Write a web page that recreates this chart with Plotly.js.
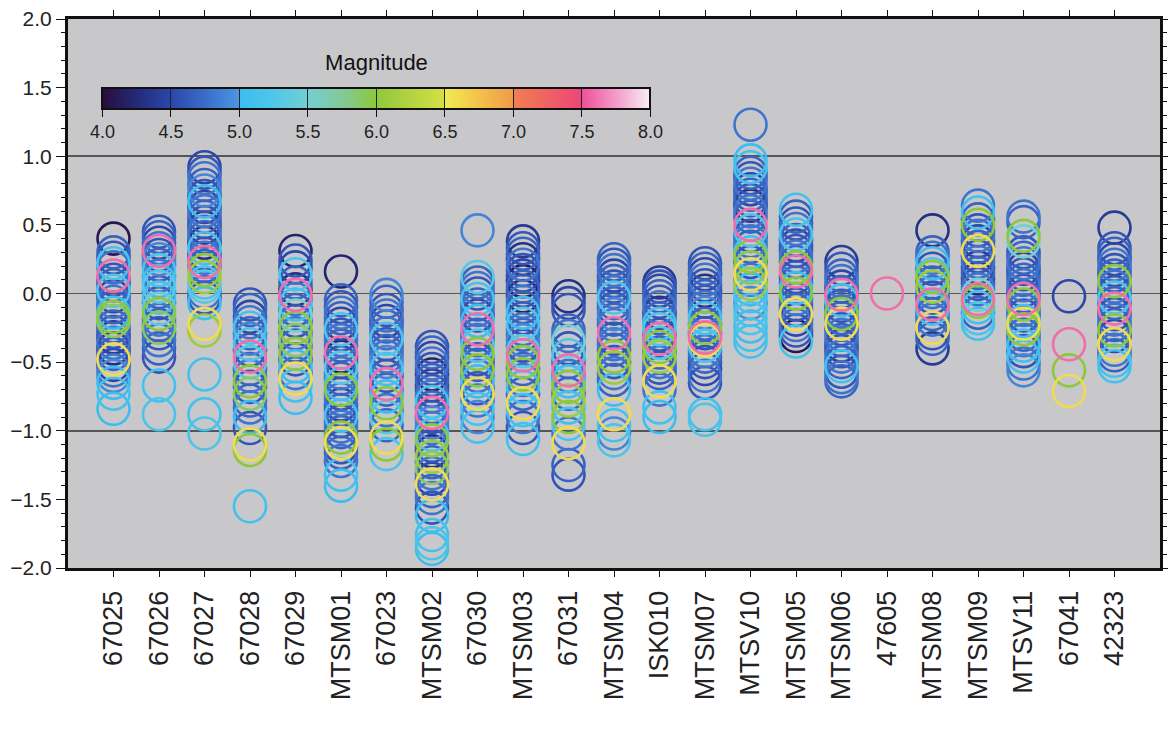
<!DOCTYPE html>
<html>
<head>
<meta charset="utf-8">
<script src="https://cdn.plot.ly/plotly-3.0.1.min.js"></script>
<style>
  html, body { margin: 0; padding: 0; background: #ffffff; }
  #chart { width: 1168px; height: 731px; }
</style>
</head>
<body>
<div id="chart"></div>
<script>
// Station codes along the x axis
const stations = ['67025', '67026', '67027', '67028', '67029', 'MTSM01', '67023', 'MTSM02',
  '67030', 'MTSM03', '67031', 'MTSM04', 'ISK010', 'MTSM07', 'MTSV10', 'MTSM05', 'MTSM06',
  '47605', 'MTSM08', 'MTSM09', 'MTSV11', '67041', '42323'];

// Residuals per station, with the magnitude of each event
const res_67025 = [0.40, 0.30, 0.26, 0.22, 0.19, 0.13, 0.10, 0.06, 0.02, -0.02, -0.06, -0.10, -0.14, -0.17, -0.20, -0.24, -0.28, -0.32, -0.36, -0.40, -0.44, -0.48, -0.52, -0.56, -0.60, -0.65, -0.73, -0.84];
const mag_67025 = [4.1, 4.7, 4.6, 5.1, 4.8, 7.6, 4.6, 4.7, 5.2, 4.5, 4.8, 4.7, 5.0, 6.0, 5.9, 4.7, 4.6, 4.4, 4.8, 4.3, 4.7, 6.6, 4.5, 4.8, 4.9, 5.0, 5.1, 5.0];

const res_67026 = [0.45, 0.41, 0.37, 0.33, 0.31, 0.28, 0.25, 0.21, 0.17, 0.13, 0.09, 0.05, 0.01, -0.03, -0.07, -0.11, -0.15, -0.19, -0.23, -0.25, -0.29, -0.34, -0.40, -0.46, -0.67, -0.88];
const mag_67026 = [4.6, 4.7, 4.5, 4.8, 7.6, 4.6, 4.9, 4.7, 5.2, 4.8, 5.0, 5.3, 4.7, 5.1, 4.6, 5.4, 6.0, 4.8, 4.7, 5.9, 4.6, 4.8, 4.7, 4.6, 5.1, 5.2];

const res_67027 = [0.92, 0.88, 0.84, 0.79, 0.75, 0.71, 0.67, 0.63, 0.60, 0.56, 0.52, 0.48, 0.45, 0.41, 0.37, 0.33, 0.29, 0.26, 0.23, 0.20, 0.17, 0.12, 0.08, 0.05, 0.01, -0.03, -0.07, -0.22, -0.27, -0.59, -0.88, -1.02];
const mag_67027 = [4.5, 4.6, 4.8, 4.7, 4.9, 4.6, 5.0, 4.5, 4.8, 4.7, 4.6, 4.4, 4.8, 4.7, 4.3, 5.1, 4.6, 4.8, 7.6, 4.7, 6.0, 6.1, 5.2, 5.3, 4.8, 4.6, 5.0, 6.6, 6.1, 5.1, 5.1, 5.2];

const res_67028 = [-0.08, -0.12, -0.17, -0.21, -0.25, -0.29, -0.33, -0.37, -0.41, -0.46, -0.50, -0.55, -0.60, -0.64, -0.68, -0.73, -0.78, -0.83, -0.90, -0.98, -1.10, -1.14, -1.55];
const mag_67028 = [4.6, 4.7, 4.5, 4.8, 5.1, 4.7, 4.9, 5.2, 4.6, 7.6, 5.3, 4.7, 4.8, 6.0, 4.6, 5.9, 4.7, 4.8, 5.0, 4.6, 6.6, 6.0, 5.1];

const res_67029 = [0.31, 0.24, 0.19, 0.14, 0.08, 0.03, -0.01, -0.04, -0.08, -0.12, -0.16, -0.20, -0.25, -0.29, -0.34, -0.38, -0.44, -0.48, -0.53, -0.58, -0.62, -0.67, -0.76];
const mag_67029 = [4.2, 4.6, 4.5, 5.2, 4.7, 4.3, 7.6, 4.8, 5.1, 4.7, 5.5, 4.6, 6.0, 4.8, 5.9, 4.7, 6.0, 4.6, 5.0, 4.8, 6.6, 5.1, 5.0];

const res_MTSM01 = [0.16, -0.05, -0.10, -0.14, -0.18, -0.22, -0.26, -0.30, -0.34, -0.38, -0.43, -0.46, -0.50, -0.54, -0.58, -0.62, -0.66, -0.70, -0.73, -0.77, -0.81, -0.85, -0.89, -0.93, -0.97, -1.01, -1.05, -1.09, -1.12, -1.16, -1.22, -1.32, -1.40];
const mag_MTSM01 = [4.2, 4.7, 4.6, 4.8, 4.7, 4.5, 5.2, 4.6, 4.8, 4.7, 7.6, 4.2, 4.6, 5.3, 4.8, 4.7, 5.0, 6.0, 4.6, 4.8, 4.5, 4.7, 5.1, 4.6, 4.8, 4.7, 6.0, 6.6, 4.6, 4.7, 4.8, 5.1, 5.0];

const res_67023 = [-0.01, -0.06, -0.12, -0.16, -0.20, -0.24, -0.29, -0.33, -0.37, -0.42, -0.46, -0.50, -0.55, -0.60, -0.66, -0.70, -0.75, -0.80, -0.85, -0.90, -0.96, -1.05, -1.10, -1.17];
const mag_67023 = [4.9, 4.7, 4.6, 4.8, 4.5, 4.7, 4.8, 5.2, 4.6, 4.7, 4.8, 4.9, 5.1, 4.6, 7.6, 4.7, 5.0, 6.0, 4.8, 5.3, 4.7, 6.6, 6.0, 5.2];

const res_MTSM02 = [-0.39, -0.43, -0.47, -0.51, -0.55, -0.59, -0.63, -0.67, -0.71, -0.75, -0.79, -0.83, -0.87, -0.90, -0.94, -0.98, -1.03, -1.07, -1.11, -1.15, -1.19, -1.23, -1.27, -1.31, -1.35, -1.39, -1.44, -1.49, -1.56, -1.62, -1.76, -1.82, -1.86];
const mag_MTSM02 = [4.6, 4.7, 4.5, 4.8, 4.6, 4.2, 4.7, 4.4, 4.6, 4.8, 5.1, 4.7, 7.6, 4.6, 4.9, 4.8, 5.2, 6.0, 4.6, 4.3, 6.1, 4.7, 5.9, 4.8, 4.5, 6.6, 4.7, 4.8, 4.6, 5.0, 5.1, 5.2, 5.0];

const res_67030 = [0.46, 0.12, 0.08, 0.04, 0.00, -0.04, -0.08, -0.12, -0.16, -0.20, -0.26, -0.30, -0.34, -0.38, -0.44, -0.48, -0.52, -0.56, -0.60, -0.64, -0.69, -0.73, -0.78, -0.84, -0.90, -0.97];
const mag_67030 = [4.9, 5.3, 4.7, 4.8, 4.6, 5.1, 4.7, 4.8, 4.5, 5.0, 7.6, 4.7, 4.8, 5.2, 6.0, 4.6, 4.7, 6.0, 4.8, 5.0, 4.6, 6.6, 4.8, 5.1, 4.9, 5.1];

const res_MTSM03 = [0.38, 0.33, 0.29, 0.25, 0.21, 0.17, 0.13, 0.09, 0.05, 0.02, -0.02, -0.06, -0.10, -0.14, -0.18, -0.22, -0.26, -0.30, -0.34, -0.38, -0.42, -0.45, -0.50, -0.55, -0.59, -0.63, -0.68, -0.73, -0.80, -0.85, -0.90, -0.98, -1.06];
const mag_MTSM03 = [4.4, 4.6, 4.7, 4.3, 4.8, 4.6, 4.5, 4.1, 4.7, 4.6, 4.2, 4.8, 4.7, 5.0, 4.6, 5.2, 4.8, 4.7, 4.9, 4.6, 5.3, 7.6, 6.0, 4.7, 6.0, 4.8, 5.1, 4.7, 6.6, 5.1, 4.8, 4.6, 5.1];

const res_67031 = [-0.02, -0.07, -0.12, -0.27, -0.31, -0.35, -0.40, -0.45, -0.50, -0.56, -0.60, -0.64, -0.68, -0.73, -0.78, -0.83, -0.90, -0.95, -1.02, -1.09, -1.25, -1.32];
const mag_67031 = [4.3, 4.5, 4.6, 4.7, 4.8, 5.5, 4.6, 5.2, 4.7, 7.6, 4.8, 5.0, 6.0, 4.7, 6.1, 5.1, 6.0, 5.2, 4.8, 6.6, 4.7, 4.6];

const res_MTSM04 = [0.25, 0.21, 0.17, 0.13, 0.09, 0.05, 0.01, -0.03, -0.07, -0.11, -0.15, -0.19, -0.23, -0.29, -0.33, -0.37, -0.41, -0.46, -0.50, -0.54, -0.58, -0.63, -0.70, -0.88, -0.96, -1.02, -1.07];
const mag_MTSM04 = [4.7, 4.6, 4.8, 4.5, 4.7, 4.6, 4.8, 5.2, 4.7, 4.6, 4.9, 4.7, 4.8, 7.6, 4.6, 4.8, 4.7, 6.0, 4.6, 6.1, 4.8, 4.7, 5.0, 6.6, 5.1, 4.9, 5.2];

const res_ISK010 = [0.08, 0.05, 0.02, -0.02, -0.06, -0.10, -0.14, -0.18, -0.22, -0.26, -0.30, -0.33, -0.36, -0.39, -0.43, -0.46, -0.50, -0.54, -0.58, -0.64, -0.70, -0.83, -0.90];
const mag_ISK010 = [4.4, 4.6, 4.5, 4.7, 4.6, 4.8, 4.3, 4.7, 5.1, 5.2, 4.6, 7.6, 5.3, 6.0, 4.7, 6.1, 4.8, 4.6, 4.7, 6.6, 4.8, 5.1, 5.0];

const res_MTSM07 = [0.22, 0.18, 0.14, 0.10, 0.06, 0.02, -0.02, -0.06, -0.10, -0.14, -0.18, -0.22, -0.25, -0.29, -0.32, -0.34, -0.38, -0.42, -0.46, -0.50, -0.55, -0.60, -0.65, -0.88, -0.92];
const mag_MTSM07 = [4.6, 4.7, 4.5, 4.8, 4.6, 4.3, 4.7, 4.6, 4.8, 4.9, 5.1, 4.7, 6.0, 4.6, 7.6, 6.6, 5.2, 4.8, 4.7, 4.6, 4.5, 4.8, 4.6, 5.1, 5.2];

const res_MTSV10 = [1.23, 0.97, 0.92, 0.88, 0.84, 0.80, 0.76, 0.72, 0.68, 0.64, 0.60, 0.56, 0.50, 0.46, 0.42, 0.38, 0.34, 0.30, 0.27, 0.23, 0.19, 0.14, 0.10, 0.07, 0.03, -0.02, -0.07, -0.12, -0.18, -0.24, -0.30, -0.35];
const mag_MTSV10 = [4.8, 5.0, 5.1, 4.7, 4.6, 4.8, 4.5, 4.7, 4.6, 4.3, 4.8, 4.7, 7.6, 5.2, 4.6, 4.8, 4.7, 5.1, 6.0, 4.6, 5.9, 6.6, 4.8, 6.1, 5.0, 5.1, 4.9, 5.1, 5.2, 5.0, 5.1, 5.1];

const res_MTSM05 = [0.61, 0.56, 0.51, 0.47, 0.43, 0.39, 0.35, 0.31, 0.27, 0.23, 0.19, 0.16, 0.12, 0.08, 0.04, 0.00, -0.04, -0.08, -0.12, -0.15, -0.19, -0.23, -0.27, -0.31, -0.35];
const mag_MTSM05 = [5.1, 4.7, 4.6, 4.8, 5.2, 4.7, 4.5, 4.6, 4.8, 4.7, 6.0, 7.6, 4.6, 4.7, 5.0, 6.0, 4.8, 4.6, 4.7, 6.6, 4.5, 4.8, 4.6, 4.1, 5.1];

const res_MTSM06 = [0.23, 0.18, 0.13, 0.09, 0.05, 0.01, -0.01, -0.05, -0.09, -0.13, -0.15, -0.18, -0.22, -0.26, -0.30, -0.34, -0.38, -0.42, -0.46, -0.50, -0.53, -0.57, -0.61, -0.64];
const mag_MTSM06 = [4.4, 4.6, 4.7, 4.8, 4.5, 4.7, 7.6, 5.1, 4.6, 4.8, 6.0, 4.7, 6.6, 4.6, 4.8, 4.7, 4.4, 4.6, 4.8, 4.7, 5.1, 4.6, 4.8, 4.7];

const res_47605 = [0.00];
const mag_47605 = [7.6];

const res_MTSM08 = [0.46, 0.30, 0.26, 0.22, 0.18, 0.14, 0.12, 0.08, 0.05, 0.01, -0.03, -0.08, -0.11, -0.15, -0.19, -0.25, -0.29, -0.33, -0.40];
const mag_MTSM08 = [4.3, 4.7, 4.8, 5.0, 4.6, 5.2, 6.0, 4.7, 6.1, 4.8, 4.6, 7.6, 5.1, 4.7, 4.8, 6.6, 4.6, 4.7, 4.4];

const res_MTSM09 = [0.64, 0.59, 0.54, 0.50, 0.46, 0.42, 0.38, 0.34, 0.31, 0.27, 0.23, 0.19, 0.15, 0.11, 0.07, 0.03, -0.01, -0.04, -0.06, -0.10, -0.14, -0.18, -0.22];
const mag_MTSM09 = [4.8, 5.1, 4.7, 6.0, 4.6, 4.8, 4.5, 4.7, 6.6, 4.6, 4.8, 4.4, 4.7, 4.3, 4.6, 4.8, 5.5, 7.6, 6.0, 5.1, 4.7, 5.2, 5.1];

const res_MTSV11 = [0.56, 0.52, 0.42, 0.38, 0.30, 0.26, 0.22, 0.18, 0.14, 0.10, 0.06, 0.02, -0.02, -0.04, -0.08, -0.12, -0.16, -0.20, -0.22, -0.26, -0.30, -0.34, -0.38, -0.42, -0.46, -0.51, -0.56];
const mag_MTSV11 = [4.8, 4.7, 6.0, 5.5, 4.6, 4.7, 4.8, 4.5, 4.6, 4.7, 4.8, 4.6, 4.7, 7.6, 6.0, 4.8, 4.6, 5.1, 6.6, 6.0, 4.7, 4.8, 5.1, 4.6, 5.1, 4.8, 4.9];

const res_67041 = [-0.02, -0.37, -0.56, -0.71];
const mag_67041 = [4.5, 7.6, 6.0, 6.6];

const res_42323 = [0.48, 0.33, 0.29, 0.25, 0.21, 0.17, 0.13, 0.09, 0.05, 0.01, -0.03, -0.07, -0.11, -0.15, -0.19, -0.23, -0.27, -0.31, -0.37, -0.41, -0.45, -0.49, -0.53];
const mag_42323 = [4.4, 4.6, 4.7, 4.5, 4.8, 4.6, 4.7, 6.0, 4.8, 4.6, 5.2, 4.7, 7.6, 4.6, 4.8, 4.7, 6.0, 4.5, 6.6, 4.8, 4.7, 5.1, 5.1];

const residuals = [res_67025, res_67026, res_67027, res_67028, res_67029, res_MTSM01, res_67023, res_MTSM02,
  res_67030, res_MTSM03, res_67031, res_MTSM04, res_ISK010, res_MTSM07, res_MTSV10, res_MTSM05, res_MTSM06,
  res_47605, res_MTSM08, res_MTSM09, res_MTSV11, res_67041, res_42323];
const magnitudes = [mag_67025, mag_67026, mag_67027, mag_67028, mag_67029, mag_MTSM01, mag_67023, mag_MTSM02,
  mag_67030, mag_MTSM03, mag_67031, mag_MTSM04, mag_ISK010, mag_MTSM07, mag_MTSV10, mag_MTSM05, mag_MTSM06,
  mag_47605, mag_MTSM08, mag_MTSM09, mag_MTSV11, mag_67041, mag_42323];

// Magnitude palette, 4.0 to 8.0, with breaks at 5.0, 6.5, 7.0 and 7.5
const magnitudeScale = [
  [0.000, '#2a0c38'], [0.062, '#232a78'], [0.125, '#2c46aa'], [0.188, '#3a6cca'], [0.249, '#4c95e0'],
  [0.250, '#3bbdf0'], [0.312, '#4fc6ea'], [0.375, '#72cfd2'], [0.438, '#82c998'], [0.500, '#8cc83c'],
  [0.562, '#b3d340'], [0.624, '#d6df45'], [0.625, '#efec52'], [0.688, '#f3c24a'], [0.749, '#f09b4a'],
  [0.750, '#f07f52'], [0.812, '#ef6262'], [0.874, '#ef457a'], [0.875, '#ef4f99'], [0.938, '#f49bc9'],
  [1.000, '#f8eef4']
];

// Flatten the stations into one set of points, larger events drawn last
const points = [];
stations.forEach((s, i) => {
  residuals[i].forEach((r, j) => points.push({ s: s, r: r, m: magnitudes[i][j] }));
});
points.sort((a, b) => a.m - b.m);

const FONT = 'Liberation Sans, Arial, Helvetica, sans-serif';

// Shared colour bar geometry; the second bar only adds the interval lines across it
const barBase = {
  orientation: 'h',
  x: 0.2825, xanchor: 'center',
  y: 0.9195, yanchor: 'top',
  len: 0.502, lenmode: 'fraction',
  thickness: 21,
  xpad: 0, ypad: 0,
  outlinewidth: 2, outlinecolor: '#111111',
  bgcolor: 'rgba(0,0,0,0)',
  borderwidth: 0,
  tick0: 4, dtick: 0.5, tickformat: '.1f',
  tickwidth: 1
};

const trace = {
  type: 'scatter',
  mode: 'markers',
  x: points.map(p => p.s),
  y: points.map(p => p.r),
  hoverinfo: 'skip',
  showlegend: false,
  marker: {
    symbol: 'circle-open',
    size: 32,
    color: points.map(p => p.m),
    colorscale: magnitudeScale,
    cmin: 4,
    cmax: 8,
    line: { width: 2.6 },
    showscale: true,
    colorbar: Object.assign({}, barBase, {
      ticks: 'outside', ticklen: 7, tickcolor: '#111111',
      tickfont: { family: FONT, size: 18, color: '#222222' },
      title: { text: 'Magnitude', side: 'top', font: { family: FONT, size: 22, color: '#111111' } }
    })
  }
};

// Colour bar overlay carrying the interval lines inside the bar
const barLines = {
  type: 'scatter', mode: 'markers',
  x: [stations[0]], y: [null],
  hoverinfo: 'skip', showlegend: false,
  marker: {
    color: [4], colorscale: magnitudeScale, cmin: 4, cmax: 8, showscale: true,
    colorbar: Object.assign({}, barBase, {
      ticks: 'inside', ticklen: 21, tickcolor: '#222222',
      showticklabels: false,
      title: { text: 'Magnitude', side: 'top', font: { family: FONT, size: 22, color: 'rgba(0,0,0,0)' } }
    })
  }
};

// Empty helper trace so the overlaid axis carrying the 1.0 grid is built
const gridTrace = {
  type: 'scatter', mode: 'none', x: [], y: [], yaxis: 'y2', xaxis: 'x',
  showlegend: false, hoverinfo: 'skip'
};

const layout = {
  width: 1168,
  height: 731,
  margin: { l: 68, r: 8, t: 19, b: 163, pad: 0 },
  paper_bgcolor: '#ffffff',
  plot_bgcolor: '#c8c8ca',
  font: { family: FONT, color: '#222222' },
  xaxis: {
    type: 'category',
    categoryorder: 'array',
    categoryarray: stations,
    range: [-1, 23],
    showgrid: false,
    zeroline: false,
    showline: true, linewidth: 3, linecolor: '#111111',
    mirror: 'ticks',
    ticks: 'outside', ticklen: 6, tickwidth: 1, tickcolor: '#111111',
    tickangle: -90,
    ticklabelstandoff: 3,
    tickfont: { family: FONT, size: 27, color: '#222222' },
    fixedrange: true
  },
  yaxis: {
    range: [-2, 2],
    tick0: 0, dtick: 0.5, tickformat: '.1f',
    showgrid: false,
    zeroline: false,
    showline: true, linewidth: 3, linecolor: '#111111',
    mirror: 'ticks',
    ticks: 'outside', ticklen: 9, tickwidth: 1, tickcolor: '#111111',
    minor: { dtick: 0.1, ticks: 'outside', ticklen: 4, tickwidth: 1, tickcolor: '#111111' },
    tickfont: { family: FONT, size: 21, color: '#222222' },
    fixedrange: true
  },
  yaxis2: {
    overlaying: 'y',
    anchor: 'x',
    range: [-2, 2],
    tick0: 0, dtick: 1,
    showgrid: true, gridcolor: '#555555', gridwidth: 1.8,
    zeroline: false,
    showline: false,
    showticklabels: false,
    ticks: '',
    fixedrange: true
  },
  showlegend: false
};

Plotly.newPlot('chart', [gridTrace, trace, barLines], layout, { staticPlot: true, displayModeBar: false });
</script>
</body>
</html>
